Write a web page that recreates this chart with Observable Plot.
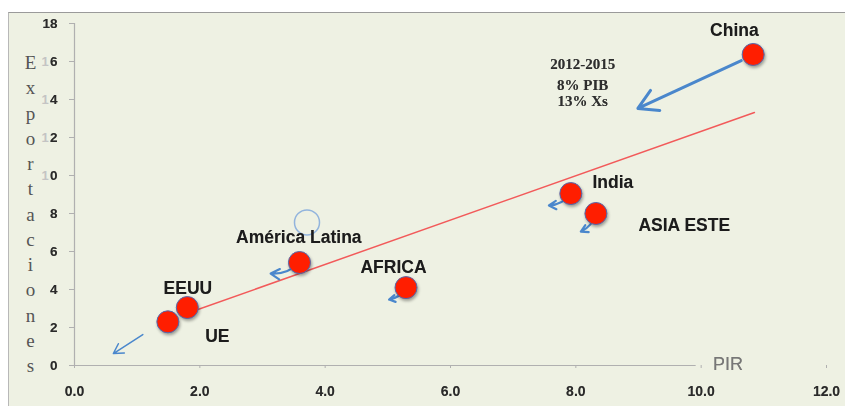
<!DOCTYPE html>
<html>
<head>
<meta charset="utf-8">
<script src="https://cdn.jsdelivr.net/npm/d3@7"></script>
<script src="https://cdn.jsdelivr.net/npm/@observablehq/plot@0.6"></script>
<style>
  html, body { margin: 0; padding: 0; background: #ffffff; }
  #wrap { position: relative; width: 845px; height: 406px; overflow: hidden; }
  #panel { position: absolute; left: 8px; top: 12px; width: 837px; height: 394px;
           background: #eef1e3; border-top: 1px solid #9a9a9a; border-left: 1px solid #b8b8b8; box-sizing: border-box; }
  #chart { position: absolute; left: 0; top: 0; }
  .shadowed circle { filter: drop-shadow(1px 2px 1.5px rgba(0,0,0,0.35)); }
  .soft text { filter: drop-shadow(0.5px 0.5px 0.6px rgba(0,0,0,0.35)); }
</style>
</head>
<body>
<div id="wrap"><div id="panel"></div><div id="chart"></div></div>
<script>
// ---- data ----
const regions = ["China", "India", "ASIA ESTE", "AFRICA", "América Latina", "EEUU", "UE"];
const pib     = [10.83, 7.92, 8.32, 5.29, 3.59, 1.80, 1.49];
const exports = [16.37, 9.05, 8.00, 4.10, 5.42, 3.05, 2.30];

// label anchor positions (data units)
const labelX = [10.53, 8.59, 9.73, 5.09, 3.58, 1.81, 2.28];
const labelY = [17.63, 9.63, 7.37, 5.16, 6.74, 4.05, 1.53];

// hollow circle (previous position marker)
const hollowX = [3.71];
const hollowY = [7.53];

// trend line
const trendX = [1.80, 10.85];
const trendY = [2.75, 13.32];

// small direction arrows: tip of each region's arrow
const smallArrowTipX = [null, 7.57, 8.08, 5.02, 3.13, null, null];
const smallArrowTipY = [null, 8.42, 7.05, 3.47, 4.84, null, null];

// big China arrow
const chinaArrow = {x1: 10.64, y1: 16.05, x2: 8.99, y2: 13.53};
// arrow near origin
const originArrow = {x1: 1.09, y1: 1.63, x2: 0.62, y2: 0.63};

// annotation
const noteLines = ["2012-2015", "8% PIB", "13% Xs"];
const noteX = [8.11, 8.11, 8.11];
const noteY = [15.84, 14.75, 13.93];

// axes
const xTicks = [0, 2, 4, 6, 8, 10, 12];
const yTicks = [0, 2, 4, 6, 8, 10, 12, 14, 16, 18];
const yFaintOnes = [10, 12, 14, 16];
const yTitle = "Exportaciones";
const xTitle = "PIR";
const xTitleX = 10.43, xTitleY = 0.05;

// ---- build tables ----
const points = regions.map((r, i) => ({name: r, x: pib[i], y: exports[i]}));
const labels = regions.map((r, i) => ({name: r, x: labelX[i], y: labelY[i]}));
const smallArrows = regions.map((r, i) => ({x1: pib[i], y1: exports[i], x2: smallArrowTipX[i], y2: smallArrowTipY[i]}))
  .filter(d => d.x2 != null);
const trend = trendX.map((x, i) => ({x, y: trendY[i]}));
const notes = noteLines.map((t, i) => ({t, x: noteX[i], y: noteY[i]}));
const hollow = hollowX.map((x, i) => ({x, y: hollowY[i]}));

const blue = "#4a87cc";

const chart = Plot.plot({
  width: 845,
  height: 406,
  marginLeft: 74,
  marginRight: 19,
  marginTop: 23,
  marginBottom: 41,
  style: {background: "transparent", fontFamily: "'Liberation Sans', Arial, sans-serif", overflow: "visible"},
  x: {domain: [0, 12]},
  y: {domain: [0, 18]},
  marks: [
    Plot.ruleX([0], {y1: 0, y2: 18, stroke: "#b0b0b0", strokeWidth: 1.2}),
    Plot.ruleY([0], {x1: 0, x2: 9.92, stroke: "#b0b0b0", strokeWidth: 1.2}),
    Plot.axisX({ticks: xTicks, tickFormat: d => d.toFixed(1), tickSize: 3, tickPadding: 18,
      stroke: "#b0b0b0", fill: "#2a2a2a", fontWeight: "bold", fontSize: 14, label: null, className: "soft"}),
    Plot.axisY({ticks: yTicks, tickFormat: d => (d >= 10 && d < 18) ? String(d % 10) : String(d),
      tickSize: 5, tickPadding: 12, stroke: "#b0b0b0", fill: "#2a2a2a", fontWeight: "bold", fontSize: 13.5, label: null, className: "soft"}),
    Plot.text(yFaintOnes, {y: d => d, frameAnchor: "left", dx: -33, text: () => "1",
      fill: "#c4c4c4", fontWeight: "bold", fontSize: 13}),
    Plot.text([yTitle], {frameAnchor: "left", dx: -44, dy: 18, text: d => d.split("").join("\n"),
      lineHeight: 1.33, fontFamily: "'Liberation Serif', 'DejaVu Serif', serif", fontSize: 19, fill: "#555", textAnchor: "middle"}),
    Plot.text([xTitle], {x: () => xTitleX, y: () => xTitleY, text: d => d,
      fontSize: 18, fill: "#777", fontFamily: "'Liberation Sans Narrow', 'Liberation Sans', sans-serif", className: "soft"}),
    Plot.line(trend, {x: "x", y: "y", stroke: "#f25a5a", strokeWidth: 1.5}),
    Plot.arrow(smallArrows, {x1: "x1", y1: "y1", x2: "x2", y2: "y2", stroke: blue, strokeWidth: 2.2, headLength: 10, bend: 25}),
    Plot.arrow([originArrow], {x1: "x1", y1: "y1", x2: "x2", y2: "y2", stroke: blue, strokeWidth: 1.5, headLength: 11}),
    Plot.dot(hollow, {x: "x", y: "y", r: 12.5, fill: "none", stroke: "#92b4dd", strokeWidth: 1.5}),
    Plot.dot(points, {x: "x", y: "y", r: 11, fill: "#ff1e00", stroke: "#5068b0", strokeWidth: 1, className: "shadowed"}),
    Plot.arrow([chinaArrow], {x1: "x1", y1: "y1", x2: "x2", y2: "y2", stroke: blue, strokeWidth: 3, headLength: 11}),
    Plot.text(labels, {x: "x", y: "y", text: "name", fontWeight: "bold", fontSize: 17.5, fill: "#1c1c1c", className: "soft"}),
    Plot.text(notes, {x: "x", y: "y", text: "t", fontWeight: "bold", fontSize: 15, fill: "#2e2e2e",
      fontFamily: "'Liberation Serif', 'DejaVu Serif', serif", className: "soft"})
  ]
});
document.getElementById("chart").appendChild(chart);
</script>
</body>
</html>
